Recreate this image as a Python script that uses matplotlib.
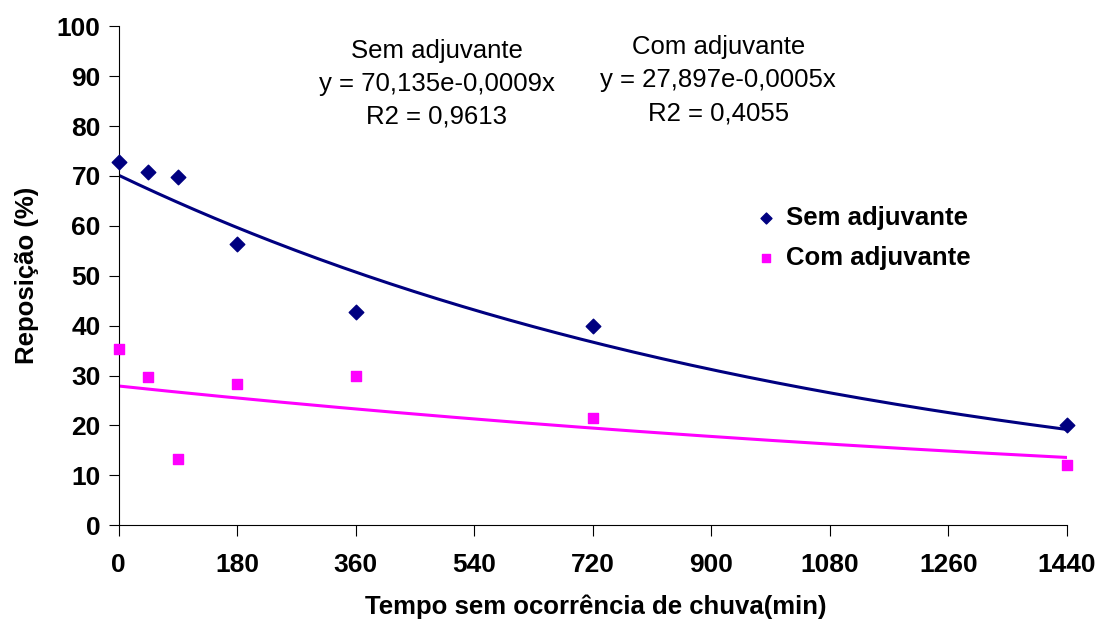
import numpy as np
import matplotlib.pyplot as plt

plt.rcParams['font.family'] = ['Liberation Sans', 'DejaVu Sans']

# Data
tempo = [0, 45, 90, 180, 360, 720, 1440]
sem_adjuvante = [72.7, 70.7, 69.8, 56.3, 42.7, 40.0, 20.0]
com_adjuvante = [35.3, 29.8, 13.3, 28.4, 30.0, 21.5, 12.0]

# Exponential trendline coefficients (from the chart's equations)
sem_a, sem_b = 70.135, -0.0009
com_a, com_b = 27.897, -0.0005

x_ticks = [0, 180, 360, 540, 720, 900, 1080, 1260, 1440]
y_ticks = [0, 10, 20, 30, 40, 50, 60, 70, 80, 90, 100]

navy = '#000080'
magenta = '#FF00FF'

fig = plt.figure(figsize=(11, 6.26), dpi=100)
ax = fig.add_axes([0.108, 0.161, 0.862, 0.797])

xs = np.linspace(0, 1440, 200)
ax.plot(xs, sem_a * np.exp(sem_b * xs), color=navy, lw=2.2)
ax.plot(xs, com_a * np.exp(com_b * xs), color=magenta, lw=2.2)

ax.scatter(tempo, sem_adjuvante, marker='D', s=55, color=navy, zorder=3,
           clip_on=False, label='Sem adjuvante')
ax.scatter(tempo, com_adjuvante, marker='s', s=55, color=magenta, zorder=3,
           clip_on=False, label='Com adjuvante')

ax.set_xlim(0, 1440)
ax.set_ylim(0, 100)
ax.set_xticks(x_ticks)
ax.set_yticks(y_ticks)
ax.spines['top'].set_visible(False)
ax.spines['right'].set_visible(False)
ax.tick_params(axis='x', direction='out', length=8, pad=12, labelsize=19)
ax.tick_params(axis='y', direction='out', length=7, pad=6, labelsize=19)
for lbl in ax.get_xticklabels() + ax.get_yticklabels():
    lbl.set_fontweight('bold')

fig.text(0.542, 0.030, 'Tempo sem ocorrência de chuva(min)', fontsize=18.5,
         fontweight='bold', ha='center', va='center')
fig.text(0.025, 0.56, 'Reposição (%)', fontsize=18.5, fontweight='bold',
         ha='center', va='center', rotation=90)

fig.text(0.397, 0.866, 'Sem adjuvante\ny = 70,135e-0,0009x\nR2 = 0,9613',
         ha='center', va='center', fontsize=18.5, linespacing=1.47)
fig.text(0.653, 0.872, 'Com adjuvante\ny = 27,897e-0,0005x\nR2 = 0,4055',
         ha='center', va='center', fontsize=18.5, linespacing=1.47)

leg = ax.legend(loc='center left', bbox_to_anchor=(0.671, 0.62),
                bbox_transform=fig.transFigure, frameon=False,
                prop={'size': 18.5, 'weight': 'bold'}, handlelength=1.2,
                handletextpad=0.15, markerscale=0.75, labelspacing=0.65,
                borderpad=0)

fig.savefig('out.png', dpi=100)
